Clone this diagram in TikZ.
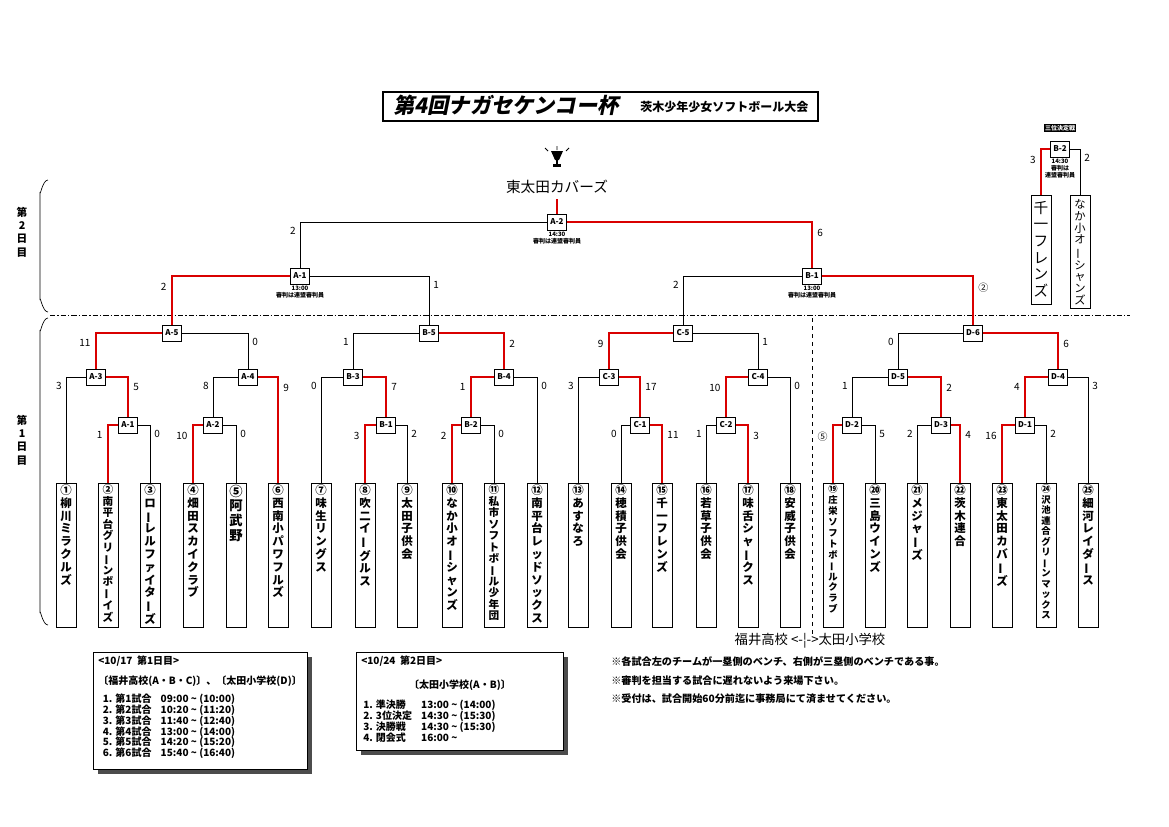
\documentclass[tikz,border=0pt]{standalone}
\usepackage{fontspec}
\setmainfont{Noto Sans CJK JP}
\usetikzlibrary{positioning}
\usetikzlibrary{shadows}
\newcommand{\vchar}[1]{\ifnum`#1=`ー \rotatebox[origin=c]{90}{ー}\else #1\fi}
\def\vst#1{\ifx#1\relax\else\\\vchar{#1}\expandafter\vst\fi}
\newcommand{\vstack}[2]{#1\vst#2\relax}
\tikzset{
  game/.style={draw, fill=white, minimum width=14pt, minimum height=12pt, inner sep=1pt, font=\fontsize{6}{6}\selectfont\bfseries},
  win/.style={draw=red!85!black, line width=2.2pt},
  lose/.style={draw=black, line width=0.5pt},
  lscore/.style={anchor=north east, xshift=-2pt, yshift=-3pt, inner sep=1pt, font=\fontsize{7.5}{7.5}\selectfont},
  rscore/.style={anchor=north west, xshift=2pt, yshift=-3pt, inner sep=1pt, font=\fontsize{7.5}{7.5}\selectfont},
  team/.style={draw, line width=0.6pt, anchor=north, minimum width=15pt, minimum height=108pt, inner sep=0pt},
  tname/.style={anchor=north, align=center, inner sep=1pt, font=\fontsize{8.6}{9.6}\selectfont\bfseries},
  sub/.style={align=center, inner sep=0.5pt, font=\fontsize{4.5}{5}\selectfont\bfseries},
  sched/.style={anchor=north west, align=left, inner sep=0pt, font=\fontsize{7.5}{9}\selectfont\bfseries},
  note/.style={anchor=west, inner sep=0pt, font=\fontsize{7.6}{8}\selectfont\bfseries}
}
\newcommand{\tm}[5][]{\node[team] (t#2) at (#3,483) {};
  \node[tname,#1] at (t#2.north) {\vstack{#4}{#5}};}
\newcommand{\bout}[9]{%
  \node[game] (#1) at (#2) {#3};
  \draw[#8] (#1.west) -| (#4.north) node[pos=.5,lscore]{#6};
  \draw[#9] (#1.east) -| (#5.north) node[pos=.5,rscore]{#7};}
\begin{document}
\begin{tikzpicture}[x=0.75pt,y=0.75pt,yscale=-1,xscale=1]
\useasboundingbox[fill=white] (0,0) rectangle (1169,826);

% title
\draw[line width=0.8pt] (383,92) rectangle (818,121);
\node[anchor=west, inner sep=0pt, font=\fontsize{16}{16}\selectfont\bfseries\addfontfeature{FakeSlant=0.2}] at (393,105) {第4回ナガセケンコー杯};
\node[anchor=west, inner sep=0pt, font=\fontsize{9}{9}\selectfont\bfseries] at (640,107) {茨木少年少女ソフトボール大会};

% day labels and braces
\node[align=center, font=\fontsize{8}{10}\selectfont\bfseries] at (22,232) {第\\2\\日\\目};
\node[align=center, font=\fontsize{8}{10}\selectfont\bfseries] at (22,440) {第\\1\\日\\目};
\draw[line width=0.5pt] (48,180) to[out=180,in=90] (40,192) -- (40,300) to[out=-90,in=180] (48,312);
\draw[line width=0.5pt] (48,318) to[out=180,in=90] (40,330) -- (40,613) to[out=-90,in=180] (48,625);
\draw[dash pattern=on 4pt off 1.5pt on 1pt off 1.5pt, line width=0.6pt] (50,315) -- (1130,315);
\draw[dashed, line width=0.6pt] (812,318) -- (812,636);

% teams
\tm{1}{66}{①}{柳川ミラクルズ}
\tm[font=\fontsize{8}{8.6}\selectfont\bfseries]{2}{108}{②}{南平台グリーンボーイズ}
\tm{3}{150}{③}{ローレルファイターズ}
\tm{4}{193}{④}{畑田スカイクラブ}
\tm[font=\fontsize{10}{11}\selectfont\bfseries]{5}{236}{⑤}{阿武野}
\tm{6}{278}{⑥}{西南小パワフルズ}
\tm{7}{321}{⑦}{味生リングス}
\tm{8}{365}{⑧}{吹二イーグルス}
\tm{9}{407}{⑨}{太田子供会}
\tm{10}{452}{⑩}{なか小オーシャンズ}
\tm[font=\fontsize{8}{8.6}\selectfont\bfseries]{11}{494}{⑪}{私市ソフトボール少年団}
\tm{12}{537}{⑫}{南平台レッドソックス}
\tm{13}{578}{⑬}{あすなろ}
\tm{14}{621}{⑭}{穂積子供会}
\tm{15}{662}{⑮}{千一フレンズ}
\tm{16}{706}{⑯}{若草子供会}
\tm{17}{748}{⑰}{味舌シャークス}
\tm{18}{790}{⑱}{安威子供会}
\tm[font=\fontsize{7}{8.2}\selectfont\bfseries]{19}{833}{⑲}{庄栄ソフトボールクラブ}
\tm{20}{875}{⑳}{三島ウインズ}
\tm{21}{917}{㉑}{メジャーズ}
\tm{22}{960}{㉒}{茨木連合}
\tm{23}{1002}{㉓}{東太田カバーズ}
\tm[font=\fontsize{7}{7.9}\selectfont\bfseries]{24}{1046}{㉔}{沢池連合グリーンマックス}
\tm{25}{1088}{㉕}{細河レイダース}

% day 1
\bout{a1}{128,425}{A-1}{t2}{t3}{1}{0}{win}{lose}
\bout{a2}{213,425}{A-2}{t4}{t5}{10}{0}{win}{lose}
\bout{b1}{386,425}{B-1}{t8}{t9}{3}{2}{win}{lose}
\bout{b2}{471,425}{B-2}{t10}{t11}{2}{0}{win}{lose}
\bout{c1}{640,425}{C-1}{t14}{t15}{0}{11}{lose}{win}
\bout{c2}{726,425}{C-2}{t16}{t17}{1}{3}{lose}{win}
\bout{d2}{852,425}{D-2}{t19}{t20}{⑤}{5}{win}{lose}
\bout{d3}{941,425}{D-3}{t21}{t22}{2}{4}{lose}{win}
\bout{d1}{1025,425}{D-1}{t23}{t24}{16}{2}{win}{lose}
\bout{a3}{96,377}{A-3}{t1}{a1}{3}{5}{lose}{win}
\bout{a4}{248,377}{A-4}{a2}{t6}{8}{9}{lose}{win}
\bout{b3}{353,377}{B-3}{t7}{b1}{0}{7}{lose}{win}
\bout{b4}{504,377}{B-4}{b2}{t12}{1}{0}{win}{lose}
\bout{c3}{609,377}{C-3}{t13}{c1}{3}{17}{lose}{win}
\bout{c4}{758,377}{C-4}{c2}{t18}{10}{0}{win}{lose}
\bout{d5}{898,377}{D-5}{d2}{d3}{1}{2}{lose}{win}
\bout{d4}{1058,377}{D-4}{d1}{t25}{4}{3}{win}{lose}
\bout{a5}{172,333}{A-5}{a3}{a4}{11}{0}{win}{lose}
\bout{b5}{429,333}{B-5}{b3}{b4}{1}{2}{lose}{win}
\bout{c5}{683,333}{C-5}{c3}{c4}{9}{1}{win}{lose}
\bout{d6}{973,333}{D-6}{d5}{d4}{0}{6}{lose}{win}

% day 2
\bout{s1}{300,276}{A-1}{a5}{b5}{2}{1}{win}{lose}
\bout{s2}{812,276}{B-1}{c5}{d6}{2}{②}{lose}{win}
\bout{fin}{557,222}{A-2}{s1}{s2}{2}{6}{lose}{win}
\node[sub, below=1pt of s1] {13:00\\審判は連盟審判員};
\node[sub, below=1pt of s2] {13:00\\審判は連盟審判員};
\node[sub, below=1pt of fin] {14:30\\審判は連盟審判員};

% champion
\node[font=\fontsize{11}{11}\selectfont] (champ) at (557,187) {東太田カバーズ};
\draw[win] (fin.north) -- (champ.south);
\fill (551,151) -- (563,151) -- (559,160) -- (555,160) -- cycle;
\fill (556,160) rectangle (558,164);
\fill (553,164) rectangle (561,167);
\draw[line width=0.6pt] (548,151) -- (545,148) (566,151) -- (569,148) (557,150) -- (557,146);

% third place
\node[fill=black, text=white, inner sep=1pt, font=\fontsize{4.5}{5}\selectfont\bfseries] at (1060,128) {三位決定戦};
\node[team, minimum height=82pt] (u1) at (1041,195) {};
\node[team, minimum height=85pt] (u2) at (1080,195) {};
\node[tname, font=\fontsize{11}{12.5}\selectfont] at (u1.north) {\vstack{}{千一フレンズ}};
\node[tname, font=\fontsize{8.5}{8.9}\selectfont, yshift=-2pt] at (u2.north) {\vstack{な}{か小オーシャンズ}};
\node[game] (third) at (1060,149) {B-2};
\draw[win] (third.west) -| (u1.north) node[pos=.5,lscore]{3};
\draw[lose] (third.east) -| (u2.north) node[pos=.5,rscore]{2};
\node[sub, below=1pt of third] {14:30\\審判は\\連盟審判員};

% schedules
\fill[black!70] (98,657) rectangle (312,774);
\draw[fill=white, line width=0.6pt] (93,652) rectangle (307,769);
\node[sched] at (98,656) {<10/17\ \ 第1日目>\\[6pt]〔福井高校(A・B・C)〕、〔太田小学校(D)〕\\[4pt]
\begin{tabular}{@{\ \ }l@{\ \ \ \ }l}
1. 第1試合 & 09:00 \~{} (10:00)\\[-1pt]
2. 第2試合 & 10:20 \~{} (11:20)\\[-1pt]
3. 第3試合 & 11:40 \~{} (12:40)\\[-1pt]
4. 第4試合 & 13:00 \~{} (14:00)\\[-1pt]
5. 第5試合 & 14:20 \~{} (15:20)\\[-1pt]
6. 第6試合 & 15:40 \~{} (16:40)
\end{tabular}};
\fill[black!70] (361,657) rectangle (568,755);
\draw[fill=white, line width=0.6pt] (356,652) rectangle (563,750);
\node[sched] at (361,656) {<10/24\ \ 第2日目>};
\node[sched, anchor=north] at (460,680) {〔太田小学校(A・B)〕};
\node[sched] at (363,700) {\begin{tabular}{@{}l@{\ \ \ \ }l}
1. 準決勝 & 13:00 \~{} (14:00)\\[-1pt]
2. 3位決定 & 14:30 \~{} (15:30)\\[-1pt]
3. 決勝戦 & 14:30 \~{} (15:30)\\[-1pt]
4. 閉会式 & 16:00 \~{}
\end{tabular}};

% notes
\node[font=\fontsize{10}{10}\selectfont] at (810,641) {福井高校 <-¦->太田小学校};
\node[note] at (611,662) {※各試合左のチームが一塁側のベンチ、右側が三塁側のベンチである事。};
\node[note] at (611,681) {※審判を担当する試合に遅れないよう来場下さい。};
\node[note] at (611,699) {※受付は、試合開始60分前迄に事務局にて済ませてください。};
\end{tikzpicture}
\end{document}
